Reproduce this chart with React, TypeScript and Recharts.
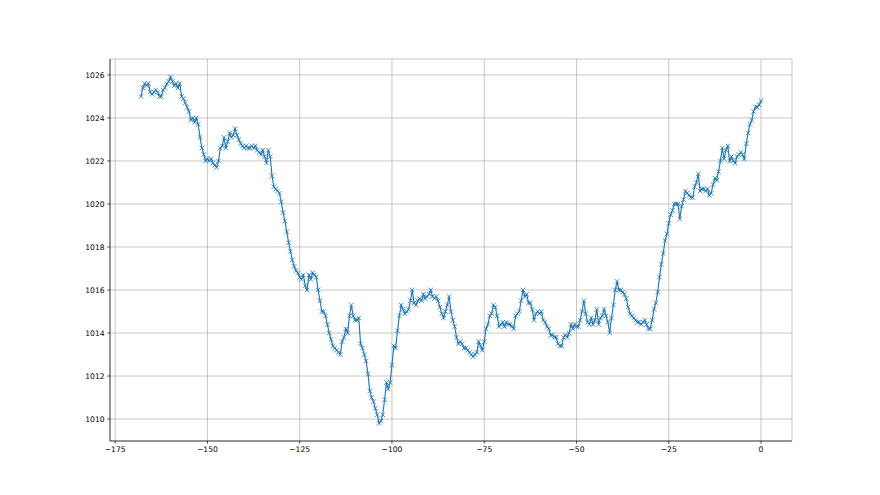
import React from 'react';
import { CartesianGrid, Line, LineChart, XAxis, YAxis } from 'recharts';

// pressure readings every half hour, from -168 h to 0 h
const pressure: number[] = [
  1025.0, 1025.4, 1025.6, 1025.5, 1025.6, 1025.2, 1025.1, 1025.2, 1025.3, 1025.2,
  1025.0, 1025.0, 1025.3, 1025.4, 1025.6, 1025.7, 1025.9, 1025.7, 1025.5, 1025.6,
  1025.4, 1025.6, 1025.0, 1024.9, 1024.7, 1024.5, 1024.3, 1023.9, 1024.0, 1023.8,
  1024.0, 1023.7, 1023.1, 1022.6, 1022.3, 1022.0, 1022.1, 1022.0, 1022.1, 1021.9,
  1021.8, 1021.7, 1022.0, 1022.6, 1022.7, 1023.1, 1022.6, 1022.9, 1023.3, 1023.1,
  1023.2, 1023.5, 1023.2, 1023.0, 1022.8, 1022.7, 1022.6, 1022.7, 1022.6, 1022.6,
  1022.7, 1022.6, 1022.7, 1022.5, 1022.4, 1022.3, 1022.5, 1022.2, 1021.9, 1022.5,
  1022.2, 1021.3, 1020.8, 1020.7, 1020.6, 1020.5, 1020.1, 1019.6, 1019.2, 1018.7,
  1018.2, 1017.8, 1017.4, 1017.1, 1016.9, 1016.8, 1016.6, 1016.5, 1016.7, 1016.2,
  1016.0, 1016.7, 1016.5, 1016.8, 1016.7, 1016.6, 1016.0, 1015.5, 1015.0, 1015.0,
  1014.8, 1014.4, 1014.0, 1013.7, 1013.4, 1013.3, 1013.2, 1013.1, 1013.0, 1013.6,
  1013.8, 1014.2, 1014.0, 1014.8, 1015.3, 1014.8, 1014.6, 1014.6, 1014.7, 1013.5,
  1013.3, 1013.0, 1012.7, 1012.1, 1011.3, 1011.0, 1010.8, 1010.5, 1010.2, 1009.8,
  1009.9, 1010.2, 1010.9, 1011.7, 1011.4, 1011.7, 1012.5, 1013.4, 1013.3, 1014.1,
  1014.8, 1015.3, 1015.1, 1014.9, 1015.0, 1015.1, 1015.5, 1016.0, 1015.4, 1015.3,
  1015.5, 1015.6, 1015.5, 1015.8, 1015.6, 1015.7, 1015.8, 1016.0, 1015.7, 1015.6,
  1015.7, 1015.5, 1015.2, 1014.9, 1014.7, 1015.0, 1015.3, 1015.7, 1015.0, 1014.6,
  1014.3, 1013.8, 1013.5, 1013.6, 1013.5, 1013.3, 1013.3, 1013.2, 1013.1, 1013.0,
  1012.9, 1013.0, 1013.1, 1013.6, 1013.4, 1013.2, 1013.6, 1014.2, 1014.4, 1014.8,
  1014.9, 1015.3, 1015.2, 1014.8, 1014.3, 1014.4, 1014.5, 1014.3, 1014.5, 1014.4,
  1014.4, 1014.3, 1014.2, 1014.8, 1014.9, 1015.0, 1015.5, 1016.0, 1015.7, 1015.8,
  1015.4, 1015.4, 1015.1, 1014.6, 1014.9, 1015.0, 1014.9, 1015.0, 1014.6, 1014.5,
  1014.3, 1014.2, 1013.9, 1013.9, 1013.8, 1013.8, 1013.5, 1013.4, 1013.4, 1013.8,
  1013.9, 1013.8, 1014.0, 1014.4, 1014.2, 1014.4, 1014.3, 1014.3, 1014.6, 1015.0,
  1015.5, 1014.9, 1014.5, 1014.4, 1014.7, 1014.4, 1014.6, 1015.1, 1014.4, 1014.7,
  1014.8, 1015.1, 1014.8, 1014.5, 1014.0, 1014.7, 1015.3, 1016.0, 1016.4, 1016.0,
  1016.0, 1015.9, 1015.8, 1015.6, 1015.2, 1014.9, 1014.8, 1014.7, 1014.6, 1014.5,
  1014.5, 1014.4, 1014.5, 1014.6, 1014.4, 1014.2, 1014.2, 1014.6, 1015.1, 1015.4,
  1015.9, 1016.6, 1017.2, 1017.7, 1018.3, 1018.6, 1019.1, 1019.5, 1019.7, 1020.0,
  1020.0, 1020.0, 1019.3, 1019.9, 1020.2, 1020.6, 1020.5, 1020.4, 1020.3, 1020.3,
  1020.8, 1021.0, 1021.4, 1020.6, 1020.7, 1020.7, 1020.6, 1020.7, 1020.4, 1020.5,
  1020.9, 1021.2, 1021.1, 1021.5, 1022.0, 1022.6, 1022.1, 1022.5, 1022.7, 1022.0,
  1022.2, 1022.0, 1021.9, 1022.2, 1022.3, 1022.4, 1022.3, 1022.1, 1022.8, 1023.3,
  1023.7, 1023.9, 1024.3, 1024.5, 1024.5, 1024.6, 1024.8,
];

const xTicks = [-175, -150, -125, -100, -75, -50, -25, 0];
const yTicks = [1010, 1012, 1014, 1016, 1018, 1020, 1022, 1024, 1026];

const data = pressure.map((p, i) => ({ hour: -168 + i * 0.5, p }));

const blue = '#1f77b4';
const font = '"DejaVu Sans", sans-serif';

const XMark = (props: any) => {
  const { cx, cy, index } = props;
  if (cx == null || cy == null) return <g key={`x-${index}`} />;
  const s = 2.3;
  return (
    <path
      key={`x-${index}`}
      d={`M${cx - s},${cy - s}L${cx + s},${cy + s}M${cx - s},${cy + s}L${cx + s},${cy - s}`}
      stroke={blue}
      strokeWidth={0.8}
      fill="none"
    />
  );
};

const fmt = (v: number) => String(v).replace('-', '\u2212');

const App: React.FC = () => {
  return (
    <div style={{ position: 'absolute', left: 0, top: 0, width: 880, height: 495, background: '#fff' }}>
      <LineChart width={880} height={495} data={data} margin={{ top: 59, right: 88, bottom: 0, left: 0 }}>
        <CartesianGrid stroke="#b0b0b0" strokeWidth={0.7} />
        <XAxis
          dataKey="hour"
          type="number"
          domain={[-176.4, 8.4]}
          ticks={xTicks}
          allowDataOverflow
          height={54}
          tickSize={2.7}
          tickMargin={2.7}
          tickFormatter={fmt}
          stroke="#000"
          strokeWidth={0.7}
          tick={{ fill: '#000', fontSize: 7.6, fontFamily: font }}
        />
        <XAxis xAxisId="top" orientation="top" type="number" domain={[0, 1]} height={0} tick={false} tickLine={false} stroke="#000" strokeWidth={0.7} />
        <YAxis
          type="number"
          domain={[1008.98, 1026.74]}
          ticks={yTicks}
          allowDataOverflow
          width={110}
          tickSize={2.7}
          tickMargin={2.7}
          stroke="#000"
          strokeWidth={0.7}
          tick={{ fill: '#000', fontSize: 7.6, fontFamily: font }}
        />
        <YAxis yAxisId="right" orientation="right" type="number" domain={[0, 1]} width={0} tick={false} tickLine={false} stroke="#000" strokeWidth={0.7} />
        <Line
          dataKey="p"
          type="linear"
          stroke={blue}
          strokeWidth={1.15}
          dot={XMark}
          activeDot={false}
          isAnimationActive={false}
        />
      </LineChart>
    </div>
  );
};

export default App;
